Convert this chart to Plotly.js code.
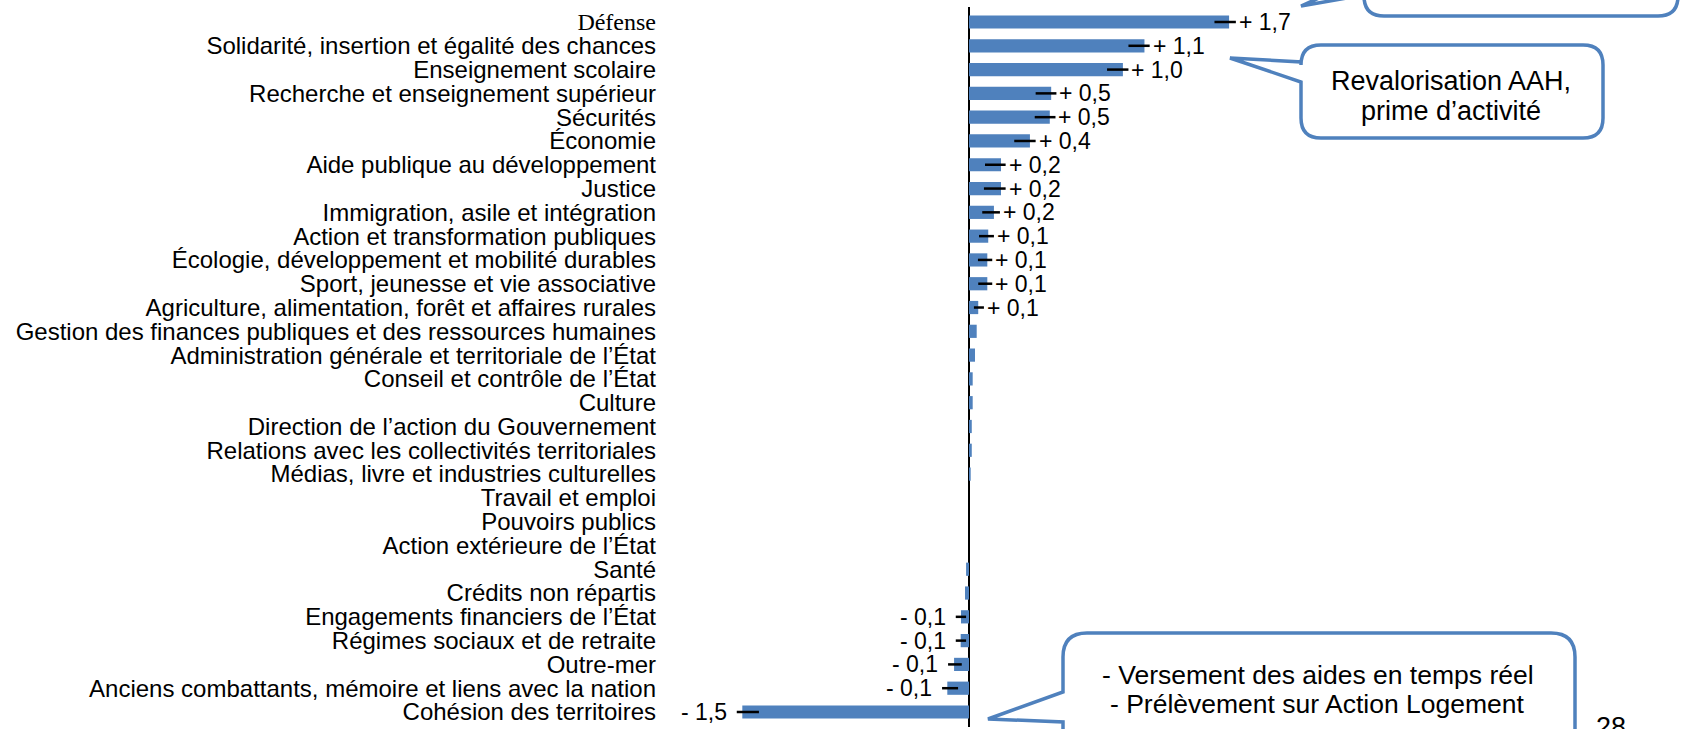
<!DOCTYPE html>
<html>
<head>
<meta charset="utf-8">
<script src="https://cdn.plot.ly/plotly-3.0.1.min.js"></script>
<style>html,body{margin:0;padding:0;background:#fff;}#chart{width:1682px;height:729px;}</style>
</head>
<body>
<div id="chart"></div>
<script>
// ---- data ----
const categories = [
  "Défense",
  "Solidarité, insertion et égalité des chances",
  "Enseignement scolaire",
  "Recherche et enseignement supérieur",
  "Sécurités",
  "Économie",
  "Aide publique au développement",
  "Justice",
  "Immigration, asile et intégration",
  "Action et transformation publiques",
  "Écologie, développement et mobilité durables",
  "Sport, jeunesse et vie associative",
  "Agriculture, alimentation, forêt et affaires rurales",
  "Gestion des finances publiques et des ressources humaines",
  "Administration générale et territoriale de l’État",
  "Conseil et contrôle de l’État",
  "Culture",
  "Direction de l’action du Gouvernement",
  "Relations avec les collectivités territoriales",
  "Médias, livre et industries culturelles",
  "Travail et emploi",
  "Pouvoirs publics",
  "Action extérieure de l’État",
  "Santé",
  "Crédits non répartis",
  "Engagements financiers de l’État",
  "Régimes sociaux et de retraite",
  "Outre-mer",
  "Anciens combattants, mémoire et liens avec la nation",
  "Cohésion des territoires"
];
const values = [
  1.69, 1.14, 1.00, 0.534, 0.525, 0.396, 0.208, 0.208, 0.162, 0.125,
  0.119, 0.119, 0.060, 0.050, 0.039, 0.024, 0.024, 0.018, 0.018, 0.011,
  0, 0, 0, -0.019, -0.026, -0.052, -0.054, -0.097, -0.141, -1.473
];
const errMinus = [
  0.095, 0.104, 0.103, 0.101, 0.098, 0.102, 0.104, 0.111, 0.076, 0.060,
  0.061, 0.059, 0.028, 0, 0, 0, 0, 0, 0, 0,
  0, 0, 0, 0, 0, 0.034, 0.032, 0.039, 0.034, 0.036
];
const errPlus = [
  0.044, 0.034, 0.036, 0.034, 0.037, 0.037, 0.030, 0.030, 0.039, 0.037,
  0.032, 0.032, 0.037, 0, 0, 0, 0, 0, 0, 0,
  0, 0, 0, 0, 0, 0.033, 0.035, 0.050, 0.070, 0.108
];
const valueLabels = [
  "+ 1,7", "+ 1,1", "+ 1,0", "+ 0,5", "+ 0,5", "+ 0,4", "+ 0,2", "+ 0,2", "+ 0,2", "+ 0,1",
  "+ 0,1", "+ 0,1", "+ 0,1", "", "", "", "", "", "", "",
  "", "", "", "", "", "- 0,1", "- 0,1", "- 0,1", "- 0,1", "- 1,5"
];
const calloutAAH = ["Revalorisation AAH,", "prime d’activité"];
const calloutLogement = ["- Versement des aides en temps réel", "- Prélèvement sur Action Logement"];
const pageNumber = "28";

// ---- layout helpers (pixel geometry) ----
const W = 1682, H = 729;
const M = {l: 660, r: 0, t: 7, b: 2};
const PW = W - M.l - M.r, PH = H - M.t - M.b;
const ZERO_PX = 969, PX_PER_UNIT = 153.9;
const xRange = [-(ZERO_PX - M.l) / PX_PER_UNIT, (W - M.r - ZERO_PX) / PX_PER_UNIT];
const px = x => (x - M.l) / PW;
const py = y => 1 - (y - M.t) / PH;
function pathOf(cmds) {
  return cmds.map(c => {
    if (c[0] === 'Z') return 'Z';
    if (c[0] === 'Q') return 'Q' + px(c[1]) + ',' + py(c[2]) + ' ' + px(c[3]) + ',' + py(c[4]);
    return c[0] + px(c[1]) + ',' + py(c[2]);
  }).join(' ');
}
function bubble(L, T, R, B, r, tail) {
  return pathOf([
    ['M', L + r, T], ['L', R - r, T], ['Q', R, T, R, T + r],
    ['L', R, B - r], ['Q', R, B, R - r, B], ['L', L + r, B],
    ['Q', L, B, L, B - r], ['L', L, tail.y2], ['L', tail.tip[0], tail.tip[1]],
    ['L', L, tail.y1], ['L', L, T + r], ['Q', L, T, L + r, T], ['Z']
  ]);
}
const blue = '#4f81bd';
const FONT = 'Liberation Sans, Arial, sans-serif';

const tickText = categories.map((c, i) => i === 0
  ? '<span style="font-family:Liberation Serif, serif;font-size:24px">' + c + '</span>' : c);

const annotations = [];
valueLabels.forEach((t, i) => {
  if (!t) return;
  const pos = values[i] >= 0;
  annotations.push({
    x: pos ? values[i] + errPlus[i] : values[i] - errMinus[i],
    y: categories[i], xref: 'x', yref: 'y',
    text: t, showarrow: false,
    xanchor: pos ? 'left' : 'right', xshift: pos ? 1 : -8,
    font: {family: FONT, size: 23, color: '#000'}
  });
});
function textAt(t, cx, cy, size) {
  annotations.push({x: px(cx), y: py(cy), xref: 'paper', yref: 'paper', text: t,
    showarrow: false, xanchor: 'center', yanchor: 'middle',
    font: {family: FONT, size: size, color: '#000'}});
}
textAt(calloutAAH[0], 1451, 81, 27);
textAt(calloutAAH[1], 1451, 111, 27);
textAt(calloutLogement[0], 1318, 675, 26.5);
textAt(calloutLogement[1], 1317, 704, 26.5);
textAt(pageNumber, 1611, 727, 27);

const shapes = [
  {type: 'path', xref: 'paper', yref: 'paper', fillcolor: '#fff', line: {color: blue, width: 3.5},
   path: bubble(1364, -80, 1678, 16, 20, {y1: -22, tip: [1301, 6], y2: -5})},
  {type: 'path', xref: 'paper', yref: 'paper', fillcolor: '#fff', line: {color: blue, width: 3.5},
   path: bubble(1301, 45, 1603, 138, 20, {y1: 62, tip: [1230, 58], y2: 82})},
  {type: 'path', xref: 'paper', yref: 'paper', fillcolor: '#fff', line: {color: blue, width: 3.5},
   path: bubble(1063, 633, 1575, 820, 24, {y1: 692, tip: [988, 719], y2: 722})}
];

const trace = {
  type: 'bar', orientation: 'h',
  x: values, y: categories,
  marker: {color: blue, line: {width: 0}},
  error_x: {type: 'data', symmetric: false, array: errPlus, arrayminus: errMinus,
            color: '#000', thickness: 2.5, width: 0},
  hoverinfo: 'skip', cliponaxis: false
};

const layout = {
  width: W, height: H,
  margin: {l: M.l, r: M.r, t: M.t, b: M.b, pad: 0},
  paper_bgcolor: '#fff', plot_bgcolor: '#fff',
  showlegend: false, bargap: 0.445,
  font: {family: FONT, color: '#000'},
  xaxis: {range: xRange, showgrid: false, showticklabels: false, ticks: '',
          zeroline: true, zerolinecolor: '#000', zerolinewidth: 2, showline: false, fixedrange: true},
  yaxis: {type: 'category', autorange: 'reversed', tickmode: 'array',
          tickvals: categories, ticktext: tickText, ticks: '', showgrid: false,
          showline: false, zeroline: false, ticklabelstandoff: 3,
          tickfont: {family: FONT, size: 24, color: '#000'}, fixedrange: true},
  shapes: shapes,
  annotations: annotations
};

Plotly.newPlot('chart', [trace], layout, {displayModeBar: false, staticPlot: true});
</script>
</body>
</html>
